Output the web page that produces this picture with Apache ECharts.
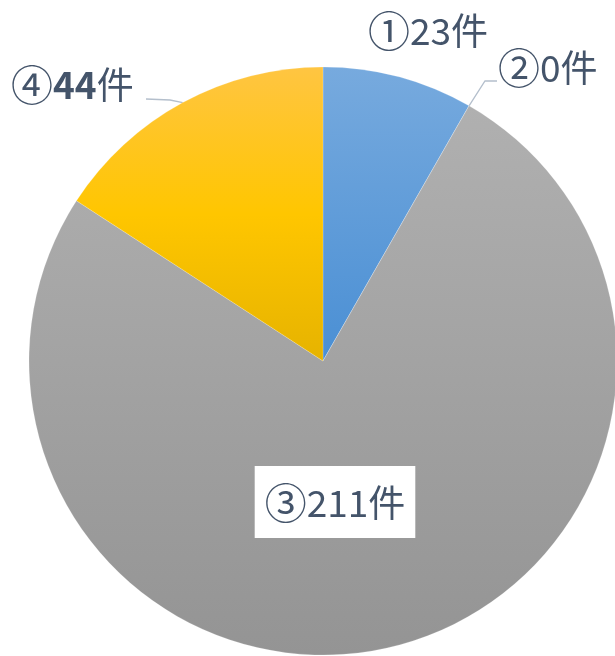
<!DOCTYPE html>
<html>
<head>
<meta charset="utf-8">
<script src="https://cdn.jsdelivr.net/npm/echarts@6/dist/echarts.min.js"></script>
<style>html,body{margin:0;padding:0;background:#fff}#c{width:615px;height:656px}</style>
</head>
<body>
<div id="c"></div>
<script>
const categories = ['①', '②', '③', '④'];
const values = [23, 0, 211, 44];
const unit = '件';

const grad = (stops) => ({
  type: 'linear', x: 0, y: 0, x2: 0, y2: 1,
  colorStops: stops.map((c, i) => ({ offset: i / (stops.length - 1), color: c }))
});
const colors = [
  grad(['#77aade', '#4a8fd4']),
  grad(['#b0b0b0', '#949494']),
  grad(['#b0b0b0', '#949494']),
  grad(['#ffc542', '#ffc600', '#e6b300'])
];
const textColor = '#44546a';
const FONT = '"Noto Sans CJK JP", "Noto Sans", sans-serif';

// label placement (pixel positions of label text)
const labelPos = [
  { x: 368, y: 31, align: 'left' },
  { x: 498, y: 68, align: 'left' },
  { x: 335, y: 502, align: 'center' },
  { x: 11, y: 85, align: 'left' }
];

const chart = echarts.init(document.getElementById('c'), null, { renderer: 'canvas' });
chart.setOption({
  animation: false,
  series: [{
    type: 'pie',
    center: [323, 361],
    radius: 294,
    startAngle: 90,
    clockwise: true,
    avoidLabelOverlap: false,
    itemStyle: { borderColor: 'rgba(255,255,255,0.35)', borderWidth: 0.5 },
    label: {
      show: true,
      position: 'outside',
      formatter: p => '{c|' + p.name + '}{' + (p.dataIndex === 3 ? 'b' : 'n') + '|' + p.value + '}{k|' + unit + '}',
      rich: {
        c: { fontSize: 42, color: textColor, fontFamily: FONT, fontWeight: 'normal' },
        n: { fontSize: 37, color: textColor, fontFamily: FONT, fontWeight: 'normal' },
        b: { fontSize: 37, color: textColor, fontFamily: FONT, fontWeight: 'bold' },
        k: { fontSize: 37, color: textColor, fontFamily: FONT, fontWeight: 'normal' }
      }
    },
    labelLine: { show: true, lineStyle: { color: '#b4bfcc', width: 1.3 }, length: 10, length2: 10, smooth: false },
    labelLayout: function (params) {
      const i = params.dataIndex;
      const p = labelPos[i];
      const res = { x: p.x, y: p.y, align: p.align, verticalAlign: 'middle' };
      const a = params.labelLinePoints ? params.labelLinePoints[0] : null;
      if (i === 1 && a) {
        res.labelLinePoints = [a, [485, 81], [497, 81]];
      } else if (i === 3 && a) {
        res.labelLinePoints = [a, [170, 100], [146, 99]];
      } else {
        res.labelLinePoints = a ? [a, a, a] : undefined;
      }
      return res;
    },
    data: categories.map((c, i) => {
      const d = { name: c, value: values[i], itemStyle: { color: colors[i] } };
      if (i === 2) {
        d.label = {
          position: 'inside',
          backgroundColor: '#ffffff',
          padding: [16, 10, 14, 10]
        };
        d.labelLine = { show: false };
      }
      if (i === 0) d.labelLine = { show: false };
      return d;
    })
  }]
});
</script>
</body>
</html>
